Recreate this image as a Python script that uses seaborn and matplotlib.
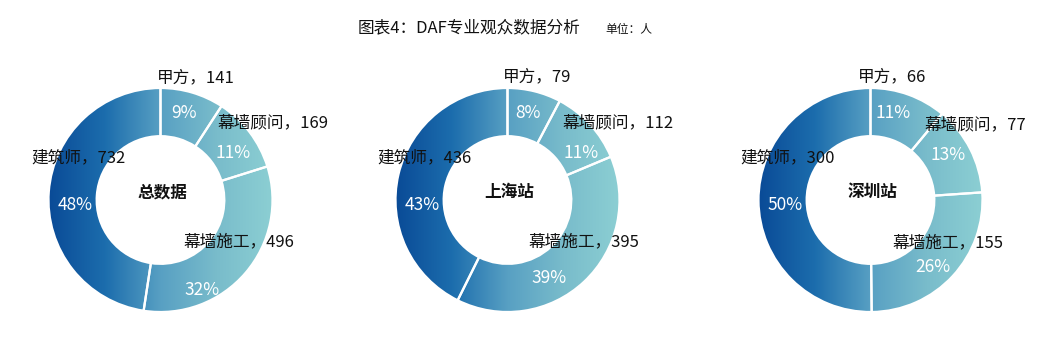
import numpy as np
import matplotlib
matplotlib.use('Agg')
import matplotlib.pyplot as plt
import seaborn as sns

# ---------------- data ----------------
categories = ['甲方', '幕墙顾问', '幕墙施工', '建筑师']
chart_titles = ['总数据', '上海站', '深圳站']
total_values = [141, 169, 496, 732]
shanghai_values = [79, 112, 395, 436]
shenzhen_values = [66, 77, 155, 300]
series = [total_values, shanghai_values, shenzhen_values]

title_text = '图表4：DAF专业观众数据分析'
unit_text = '单位：人'

# ---------------- layout (pixels, y up) ----------------
W, H = 1056, 342
centers = [(160.5, 142), (507.5, 142), (870.5, 142)]
R = 112
ring_width = 0.43

name_offsets = [
    [(35, 122), (112, 77), (78, -42), (-82, 42)],
    [(30, 123), (111, 77), (76, -42), (-83, 42)],
    [(22, 123), (105, 75), (77, -43), (-83, 42)],
]
pct_offsets = [
    [(23, 87), (73, 47), (42, -90), (-85, -5)],
    [(20, 87), (74, 47), (42, -78), (-85, -5)],
    [(23, 87), (78, 45), (62, -67), (-85, -5)],
]

sns.set_theme(style='white')
plt.rcParams['font.family'] = ['Noto Sans CJK SC', 'DejaVu Sans']

cmap = sns.blend_palette(['#0a4b97', '#1c6dad', '#58a0c3', '#79bccb', '#8ccfd3'], as_cmap=True)

fig = plt.figure(figsize=(W / 100, H / 100), dpi=100)
ax = fig.add_axes([0, 0, 1, 1])

grad = np.tile(np.linspace(0, 1, 256), (16, 1))

for ci, vals in enumerate(series):
    cx, cy = centers[ci]
    wedges, _ = ax.pie(vals, center=(cx, cy), radius=R, startangle=90,
                       counterclock=False,
                       wedgeprops=dict(width=ring_width * R, edgecolor='white',
                                       linewidth=1.6, facecolor='none'))
    total = sum(vals)
    for wi, w in enumerate(wedges):
        im = ax.imshow(grad, extent=[cx - R, cx + R, cy - R, cy + R], cmap=cmap,
                       aspect='auto', origin='lower', zorder=1, interpolation='bilinear')
        im.set_clip_path(w)
        w.set_zorder(2)
        pct = round(vals[wi] / total * 100)
        px, py = pct_offsets[ci][wi]
        ax.text(cx + px, cy + py, f'{pct}%', color='white', fontsize=12.5,
                ha='center', va='center', zorder=4)
        nx, ny = name_offsets[ci][wi]
        ax.text(cx + nx, cy + ny, f'{categories[wi]}，{vals[wi]}', color='#111111',
                fontsize=12, ha='center', va='center', zorder=5)
    ax.text(cx + 2, cy + 8, chart_titles[ci], fontsize=12, fontweight='bold',
            color='#111111', ha='center', va='center', zorder=5)

fig.text(358 / W, 314 / H, title_text, fontsize=12, color='#111111', ha='left', va='center')
fig.text(605 / W, 313 / H, unit_text, fontsize=8.5, color='#111111', ha='left', va='center')

ax.set_xlim(0, W)
ax.set_ylim(0, H)
ax.set_aspect('auto')
ax.axis('off')

fig.savefig('out.png', dpi=100, facecolor='white')
